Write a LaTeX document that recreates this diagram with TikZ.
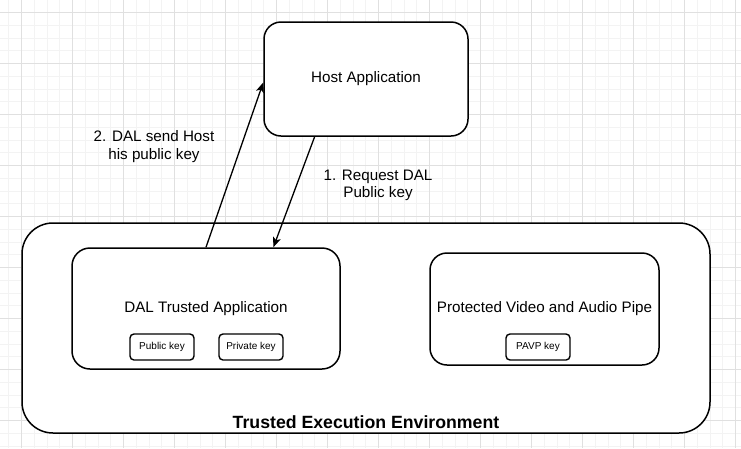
\documentclass[tikz,border=0pt]{standalone}
\usepackage{fontspec}
\setmainfont{Liberation Sans}
\usetikzlibrary{arrows.meta, calc, positioning}
\definecolor{gridmajor}{RGB}{224,224,224}
\definecolor{gridminor}{RGB}{243,243,243}

\begin{document}
\begin{tikzpicture}[x=1pt, y=-1pt,
	box/.style={draw, fill=white, line width=1.5pt, inner sep=0, align=center, font=\fontsize{15.2}{17.5}\selectfont},
	keybox/.style={draw, fill=white, line width=1.4pt, rounded corners=4pt, minimum width=64pt, minimum height=26pt, inner sep=0, font=\fontsize{10}{12}\selectfont},
	msg/.style={align=center, font=\fontsize{15.2}{17.5}\selectfont},
	flow/.style={-{Stealth[length=10pt, width=8pt, inset=2.5pt]}, line width=1.3pt}]
				\useasboundingbox (0,0) rectangle (741,448);
				\fill[white] (0,0) rectangle (741,448);
				
				% background grid
				\foreach \i in {0,...,57} \draw[gridminor, line width=1pt] (8.75+12.75*\i,0) -- (8.75+12.75*\i,448);
				\foreach \j in {0,...,35} \draw[gridminor, line width=1pt] (0,-0.25+12.75*\j) -- (741,-0.25+12.75*\j);
				\foreach \i in {0,...,14} \draw[gridmajor, line width=1pt] (21.5+51*\i,0) -- (21.5+51*\i,448);
				\foreach \j in {0,...,8} \draw[gridmajor, line width=1pt] (0,12.5+51*\j) -- (741,12.5+51*\j);
				
				\node[box, rounded corners=31pt, minimum width=688pt, minimum height=210pt] (tee) at (366,328) {};
				\node[font=\bfseries\fontsize{17.7}{20}\selectfont] (teelabel) at (366,422) {Trusted Execution Environment};
				
				\node[box, rounded corners=17pt, minimum width=204pt, minimum height=114pt] (host) at (366,79) {Host Application};
				\node[box, rounded corners=18pt, minimum width=268pt, minimum height=121pt] (dal) at (206,308.5) {DAL Trusted Application};
				\node[box, rounded corners=17pt, minimum width=229pt, minimum height=112pt] (pavp) at (544.5,309) {Protected Video and Audio Pipe};
				
				\node[keybox] (pubkey) at (162,347) {Public key};
				\node[keybox] (privkey) at (251,347) {Private key};
				\node[keybox] (pavpkey) at (538,347) {PAVP key};
				
				\draw[flow] ($(host.south west)!0.25!(host.south east)$) -- ($(dal.north west)!0.75!(dal.north east)$);
				\draw[flow] (dal.north) -- ($(host.north west)!0.53!(host.south west)$);
				
				\node[msg] (reqlabel) at (378,185.5) {1. Request DAL\\Public key};
				\node[msg] (sendlabel) at (154,146.5) {2. DAL send Host\\his public key};
\end{tikzpicture}
\end{document}
